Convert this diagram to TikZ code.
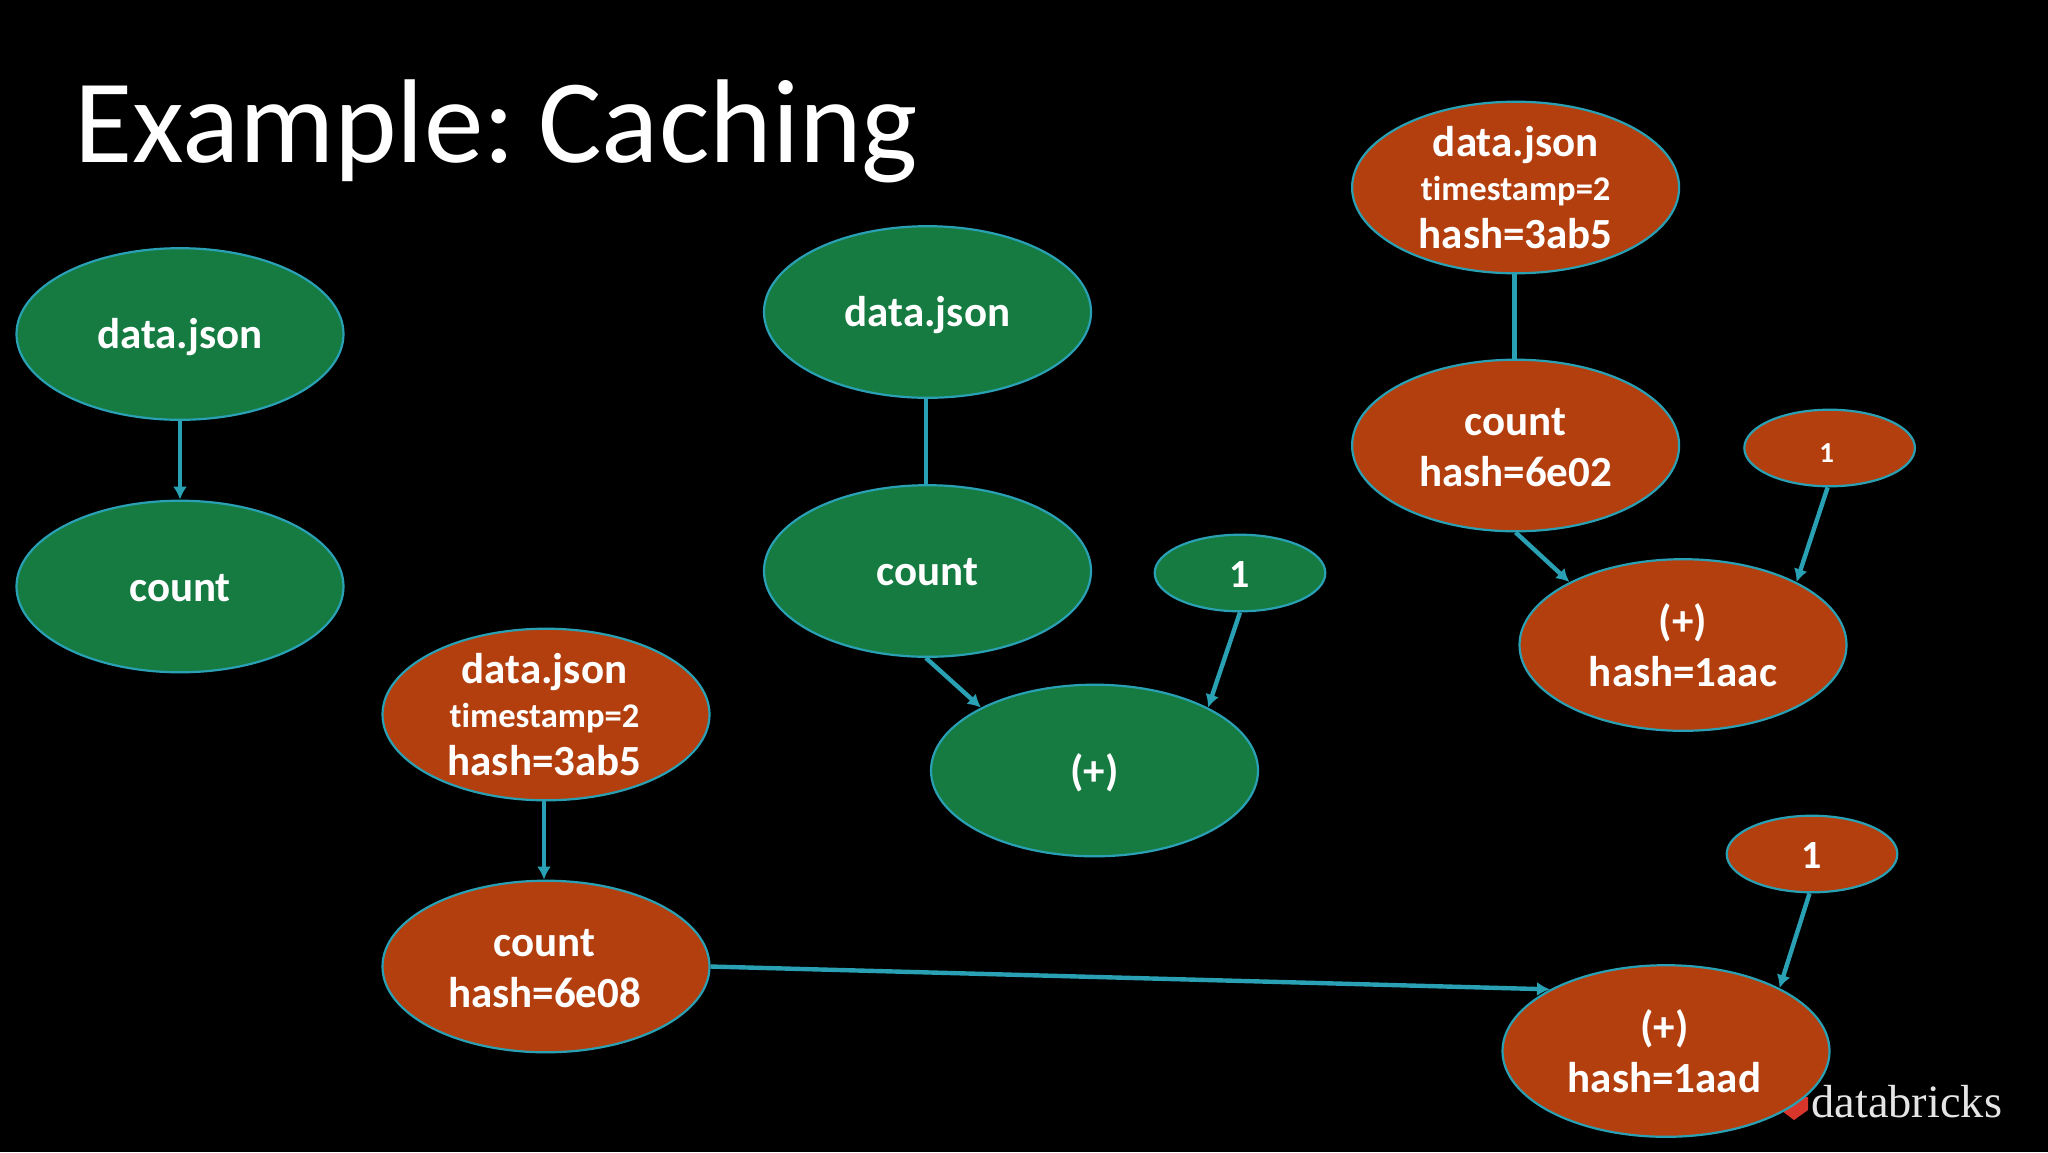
\documentclass[tikz,border=0pt]{standalone}
\usepackage{fontspec}
\setmainfont{Carlito}[Ligatures=NoCommon]
\newfontfamily\logofont{Liberation Serif}
\usetikzlibrary{shapes.geometric,arrows.meta}
\definecolor{ornode}{HTML}{B43F0E}
\definecolor{grnode}{HTML}{157B41}
\definecolor{edgecol}{HTML}{2AA0B4}
\definecolor{logored}{HTML}{D9362B}
\newcommand{\lbl}[2]{\fontsize{21.5}{#1}\selectfont\smash{\raisebox{-.37em}{\begin{tabular}{@{}c@{}}#2\end{tabular}}}}
\newcommand{\fs}[1]{\fontsize{#1}{#1}\selectfont}
\newcommand{\ts}{\raisebox{1pt}{\fs{17.3}timestamp=2}}
\tikzset{
  big/.style={ellipse,draw=edgecol,line width=1.1pt,inner sep=0pt,minimum width=163.5pt,minimum height=85.8pt,text=white,font=\bfseries},
  small/.style={big,minimum width=85.3pt,minimum height=38.3pt},
  gr/.style={fill=grnode},
  or/.style={fill=ornode},
  plain/.style={draw=edgecol,line width=2.2pt},
  arr/.style={plain,-{Latex[length=6.5pt,width=7pt]}},
}
\begin{document}
\begin{tikzpicture}[x=0.5pt,y=-0.5pt]
\fill[black] (0,0) rectangle (2048,1152);
\useasboundingbox (0,0) rectangle (2048,1152);
\node[anchor=base west,inner sep=0pt,text=white,font=\fontsize{59.6}{59.6}\selectfont] (title) at (74,162) {Example:\hspace{-6.5pt} Caching};
% logo
\node[anchor=base west,inner sep=0pt,text=white!90!black,font=\logofont\fontsize{23.2}{23.2}\selectfont] (logo) at (1811,1117) {databricks};
\fill[logored] (1782,1111) -- (1795,1104) -- (1795,1098) -- (1808,1097) -- (1808,1110) -- (1794,1120) -- cycle;
% left group
\node[big,gr] (a) at (180,334) {\lbl{23}{data.json}};
\node[big,gr] (ac) at (180,586.5) {\lbl{23}{count}};
% middle group
\node[big,gr] (b) at (927.5,312) {\lbl{23}{data.json}};
\node[big,gr] (bc) at (927.5,571) {\lbl{23}{count}};
\node[small,gr] (b1) at (1240,573) {\lbl{23}{\fs{20}1}};
\node[big,gr] (bp) at (1094.5,770.5) {\lbl{23}{(+)}};
% lower group
\node[big,or] (c) at (546,714.5) {\hspace{-1.5pt}\lbl{23}{data.json\\\ts\\hash=3ab5}};
\node[big,or] (cc) at (546,966.5) {\hspace{-1.5pt}\lbl{25.5}{count\\hash=6e08}};
\node[small,or] (c1) at (1812,854) {\lbl{23}{\fs{20}1}};
\node[big,or] (cp) at (1666,1051) {\hspace{-1.5pt}\lbl{25.5}{(+)\\hash=1aad}};
% top-right group
\node[big,or] (d) at (1515.6,187.5) {\lbl{23}{data.json\\\ts\\hash=3ab5}};
\node[big,or] (dc) at (1515.6,445.5) {\lbl{25.5}{count\\hash=6e02}};
\node[small,or] (d1) at (1829.6,448) {\lbl{23}{\fs{14.5}\hspace{-3pt}1}};
\node[big,or] (dp) at (1683,645) {\lbl{25.5}{(+)\\hash=1aac}};
% connectors
\draw[arr] (a.south) -- (ac.north);
\draw[plain] ([xshift=-.8pt]b.south) -- ([xshift=-.8pt]bc.north);
\draw[arr] ([xshift=-.8pt]bc.south) -- (bp.151.5);
\draw[arr] (b1.south) -- (bp.29);
\draw[arr] ([xshift=-1pt]c.south) -- ([xshift=-1pt]cc.north);
\draw[arr] (cc.east) -- (cp.152);
\draw[arr] ([xshift=-1.25pt]c1.south) -- (cp.29);
\draw[plain] ([xshift=-.5pt]d.south) -- ([xshift=-.5pt]dc.north);
\draw[arr] (dc.south) -- (dp.151.5);
\draw[arr] ([xshift=-1pt]d1.south) -- (dp.29);
\end{tikzpicture}
\end{document}
